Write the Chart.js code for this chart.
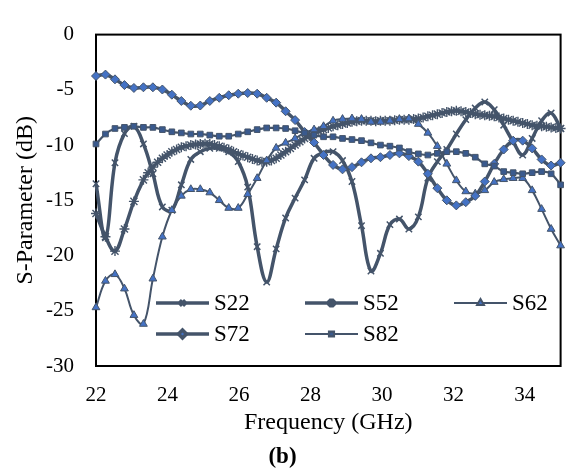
<!DOCTYPE html>
<html><head><meta charset="utf-8">
<script src="https://cdn.jsdelivr.net/npm/chart.js@4.4.1/dist/chart.umd.min.js"></script>
<style>html,body{margin:0;padding:0;background:#fff;}#wrap{width:567px;height:473px;}</style>
</head><body><div id="wrap"><canvas id="c" width="567" height="473"></canvas></div>
<script>
// ---- data ----
const freq = [22.000,22.265,22.531,22.796,23.061,23.327,23.592,23.857,24.122,24.388,
  24.653,24.918,25.184,25.449,25.714,25.980,26.245,26.510,26.776,27.041,
  27.306,27.571,27.837,28.102,28.367,28.633,28.898,29.163,29.429,29.694,
  29.959,30.224,30.490,30.755,31.020,31.286,31.551,31.816,32.082,32.347,
  32.612,32.878,33.143,33.408,33.673,33.939,34.204,34.469,34.735,35.000];
const freqS52 = [22.000,22.265,22.531,22.796,23.061,
  23.327,23.459,23.592,23.725,23.857,23.990,24.122,24.255,24.388,24.520,
  24.653,24.786,24.918,25.051,25.184,25.316,25.449,25.582,25.714,25.847,
  25.980,26.112,26.245,26.378,26.510,26.643,26.776,26.908,27.041,27.173,
  27.306,27.439,27.571,27.704,27.837,27.969,28.102,28.235,28.367,28.500,
  28.633,28.765,28.898,29.031,29.163,29.296,29.429,29.561,29.694,29.827,
  29.959,30.092,30.224,30.357,30.490,30.622,30.755,30.888,31.020,31.153,
  31.286,31.418,31.551,31.684,31.816,31.949,32.082,32.214,32.347,32.480,
  32.612,32.745,32.878,33.010,33.143,33.276,33.408,33.541,33.673,33.806,
  33.939,34.071,34.204,34.337,34.469,34.602,34.735,34.867,35.000];
const S22 = [-13.5,-18.4,-11.6,-8.96,-8.3,-9.9,-12.6,-15.6,-15.9,-13.6,
  -11.3,-10.6,-10.3,-10.3,-10.6,-11.5,-13.8,-19.2,-22.4,-19.4,
  -16.6,-14.8,-13.15,-11.2,-10.7,-10.6,-11.4,-13.3,-17.3,-21.4,
  -19.8,-17.2,-16.7,-17.6,-16.5,-13.0,-11.5,-10.4,-9.0,-7.7,
  -6.65,-6.1,-6.8,-8.2,-9.7,-10.9,-9.4,-7.8,-7.1,-8.5];
const S52 = [-16.2,-18.3,-19.6,-17.6,-15.1,
  -13.15,-12.5,-12.0,-11.55,-11.2,-10.9,-10.6,-10.4,-10.2,-10.1,
  -10.0,-9.95,-9.9,-9.88,-9.9,-10.0,-10.1,-10.25,-10.4,-10.6,
  -10.8,-10.95,-11.1,-11.25,-11.4,-11.5,-11.5,-11.4,-11.2,-10.9,
  -10.6,-10.3,-10.0,-9.7,-9.4,-9.15,-8.9,-8.75,-8.6,-8.45,
  -8.3,-8.2,-8.1,-8.0,-7.9,-7.85,-7.8,-7.8,-7.8,-7.85,
  -7.8,-7.8,-7.8,-7.75,-7.7,-7.7,-7.7,-7.65,-7.6,-7.5,
  -7.4,-7.3,-7.2,-7.1,-7.0,-6.95,-6.9,-6.95,-7.0,-7.1,
  -7.2,-7.25,-7.3,-7.35,-7.4,-7.5,-7.6,-7.7,-7.8,-7.9,
  -8.0,-8.1,-8.2,-8.25,-8.3,-8.35,-8.4,-8.45,-8.5];
const S62 = [-24.7,-22.3,-21.7,-23.0,-25.4,-26.2,-22.1,-18.3,-15.9,-14.6,
  -14.0,-14.0,-14.3,-15.0,-15.7,-15.7,-14.45,-13.0,-11.4,-10.26,
  -9.8,-9.4,-8.9,-8.6,-8.3,-7.8,-7.65,-7.6,-7.65,-7.9,
  -7.9,-7.8,-7.66,-7.6,-8.1,-8.9,-10.1,-11.7,-13.2,-14.2,
  -14.4,-14.1,-13.35,-13.1,-13.0,-13.0,-14.1,-15.8,-17.6,-19.1];
const S72 = [-3.75,-3.62,-4.05,-4.57,-4.83,-4.77,-4.77,-4.97,-5.44,-6.01,
  -6.44,-6.42,-6.01,-5.72,-5.49,-5.35,-5.29,-5.35,-5.72,-6.16,
  -6.94,-7.74,-8.82,-9.77,-10.9,-11.8,-12.2,-12.0,-11.56,-11.2,
  -11.1,-10.9,-10.75,-11.0,-11.5,-12.6,-13.9,-15.0,-15.46,-15.17,
  -14.6,-13.3,-11.7,-10.4,-9.6,-9.6,-10.3,-11.3,-11.85,-11.6];
const S82 = [-9.9,-9.0,-8.5,-8.4,-8.3,-8.4,-8.4,-8.6,-8.8,-8.9,
  -9.0,-9.0,-9.1,-9.2,-9.2,-9.0,-8.8,-8.6,-8.45,-8.45,
  -8.5,-8.7,-8.9,-9.1,-9.25,-9.25,-9.4,-9.5,-9.6,-9.8,
  -10.0,-10.1,-10.26,-10.6,-10.8,-10.9,-10.75,-10.6,-10.6,-10.75,
  -11.1,-11.7,-11.9,-12.4,-12.5,-12.6,-12.5,-12.4,-12.6,-13.6];
const seriesNames = ['S22','S52','S62','S72','S82'];
const xTickValues = [22,24,26,28,30,32,34];
const yTickValues = [0,-5,-10,-15,-20,-25,-30];
const xTitle = 'Frequency (GHz)';
const yTitle = 'S-Parameter (dB)';
const figLabel = '(b)';

// ---- styling ----
const LINE = '#44546A', FILL = '#4472C4';
const FONT = "'Liberation Serif', serif";
const pts = (xs, ys) => ys.map((y, i) => ({x: xs[i], y}));
const styles = [
  {pointStyle:'crossRot', radius:4.5, bw:3.5, pbw:1.5, fill:LINE},
  {pointStyle:'star', radius:5, bw:3.5, pbw:1.4, fill:LINE},
  {pointStyle:'triangle', radius:4.5, bw:2, pbw:1, fill:FILL},
  {pointStyle:'rectRot', radius:4.5, bw:3.5, pbw:1, fill:FILL},
  {pointStyle:'rect', radius:4, bw:2.2, pbw:1, fill:'#3A5A8E'}
];
const seriesData = [pts(freq,S22), pts(freqS52,S52), pts(freq,S62), pts(freq,S72), pts(freq,S82)];
const datasets = seriesNames.map((n, k) => ({
  label: n, data: seriesData[k], borderColor: LINE, borderWidth: styles[k].bw,
  pointStyle: styles[k].pointStyle, pointRadius: styles[k].radius,
  pointBackgroundColor: styles[k].fill, pointBorderColor: LINE,
  pointBorderWidth: styles[k].pbw, tension: 0.4, fill: false,
  order: 5 - k, clip: 8
}));

const framePlugin = {
  id: 'frame',
  beforeDatasetsDraw(chart) {
    const {ctx, chartArea: a} = chart;
    ctx.save(); ctx.strokeStyle = '#000'; ctx.lineWidth = 2;
    ctx.strokeRect(a.left, a.top, a.right - a.left, a.bottom - a.top);
    ctx.restore();
  },
  afterDraw(chart) {
    const {ctx} = chart;
    const colX = [156, 305, 454], rowY = [303, 334], len = 53;
    ctx.save();
    seriesNames.forEach((n, k) => {
      const x0 = colX[k % 3], y = rowY[Math.floor(k / 3)];
      const s = styles[k];
      ctx.strokeStyle = LINE; ctx.lineWidth = s.bw;
      ctx.beginPath(); ctx.moveTo(x0, y); ctx.lineTo(x0 + len, y); ctx.stroke();
      ctx.fillStyle = s.fill; ctx.strokeStyle = LINE;
      Chart.helpers.drawPoint(ctx, {pointStyle: s.pointStyle, radius: s.radius - 0.5, rotation: 0, borderWidth: s.pbw}, x0 + len / 2, y);
      ctx.fillStyle = '#000'; ctx.font = "23px " + FONT; ctx.textAlign = 'left'; ctx.textBaseline = 'middle';
      ctx.fillText(n, x0 + len + 5, y + 1);
    });
    ctx.restore();
  }
};

new Chart(document.getElementById('c'), {
  type: 'line',
  data: {datasets},
  plugins: [framePlugin],
  options: {
    responsive: false, animation: false, devicePixelRatio: 1,
    layout: {padding: {left: 0, right: 2, top: 20, bottom: 0}},
    plugins: {
      legend: {display: false}, tooltip: {enabled: false},
      title: {display: true, text: figLabel, position: 'bottom', color: '#000',
        font: {family: FONT, size: 23, weight: 'bold'}, padding: {top: 4, bottom: 2}}
    },
    scales: {
      x: {
        type: 'linear', min: 22, max: 35,
        afterBuildTicks: s => { s.ticks = xTickValues.map(v => ({value: v})); },
        afterFit: s => { s.height = 473 - 366 - (23 * 1.2 + 6); },
        grid: {display: false, drawTicks: false},
        border: {display: false},
        ticks: {color: '#000', padding: 17, font: {family: FONT, size: 21}, maxRotation: 0, autoSkip: false},
        title: {display: true, text: xTitle, color: '#000', font: {family: FONT, size: 24}, padding: {top: 0, bottom: 2}}
      },
      y: {
        type: 'linear', min: -30, max: 0,
        afterBuildTicks: s => { s.ticks = yTickValues.map(v => ({value: v})); },
        afterFit: s => { s.width = 96; },
        grid: {display: false, drawTicks: false},
        border: {display: false},
        ticks: {color: '#000', padding: 22, font: {family: FONT, size: 21}, autoSkip: false},
        title: {display: true, text: yTitle, color: '#000', font: {family: FONT, size: 24}, padding: {top: 11, bottom: 0}}
      }
    }
  }
});
</script></body></html>
